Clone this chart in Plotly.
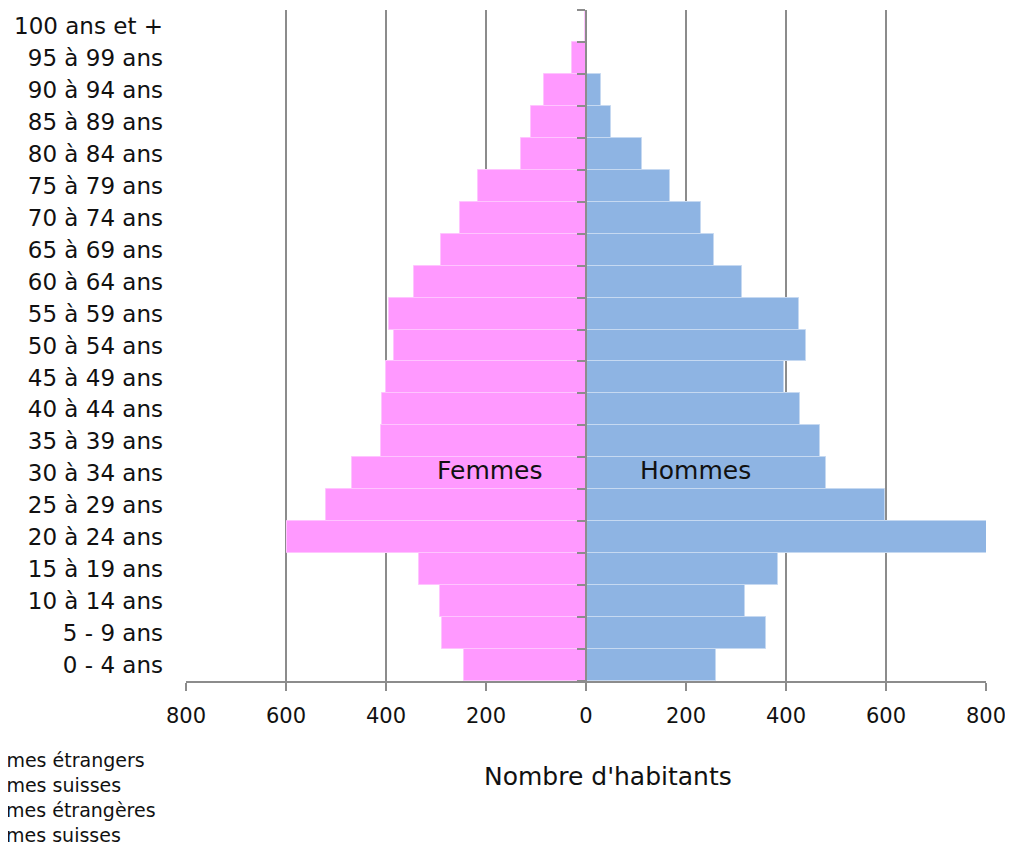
import plotly.graph_objects as go

age_groups = ["0 - 4 ans", "5 - 9 ans", "10 à 14 ans", "15 à 19 ans", "20 à 24 ans",
              "25 à 29 ans", "30 à 34 ans", "35 à 39 ans", "40 à 44 ans", "45 à 49 ans",
              "50 à 54 ans", "55 à 59 ans", "60 à 64 ans", "65 à 69 ans", "70 à 74 ans",
              "75 à 79 ans", "80 à 84 ans", "85 à 89 ans", "90 à 94 ans", "95 à 99 ans",
              "100 ans et +"]
femmes = [245, 289, 293, 334, 598, 521, 469, 411, 408, 401, 384, 394, 344, 290, 253,
          217, 131, 110, 85, 28, 3]
hommes = [260, 360, 318, 383, 803, 597, 479, 467, 428, 395, 440, 425, 311, 255, 229,
          167, 112, 50, 29, 0, 0]
legend_names = ["Hommes étrangers", "Hommes suisses", "Femmes étrangères", "Femmes suisses"]
x_ticks = [-800, -600, -400, -200, 0, 200, 400, 600, 800]

FONT = "DejaVu Sans"
OFF = 8  # page body margin
W, H = 1013 - OFF, 853 - OFF
ML, MR, MT, MB = 186 - OFF, 27, 10 - OFF, 172
pw = W - ML - MR
ph = H - MT - MB


def px_x(px):
    return (px - OFF - ML) / pw


def px_y(py):
    return (H - MB - (py - OFF)) / ph


fig = go.Figure()
fig.add_trace(go.Bar(
    y=age_groups, x=[-v for v in femmes], orientation="h", name="Femmes",
    marker=dict(color="#FF99FF", line=dict(color="#FFC4FF", width=1)),
    yaxis="y", showlegend=False))
fig.add_trace(go.Bar(
    y=age_groups, x=hommes, orientation="h", name="Hommes",
    marker=dict(color="#8EB4E3", line=dict(color="#C6D9F1", width=1)),
    yaxis="y2", showlegend=False))

fig.update_layout(
    width=W, height=H,
    margin=dict(l=ML, r=MR, t=MT, b=MB, autoexpand=False),
    paper_bgcolor="white", plot_bgcolor="white",
    bargap=0, barmode="overlay",
    font=dict(family=FONT, size=20, color="#111111"),
    xaxis=dict(range=[-800, 800], tickvals=x_ticks,
               ticktext=[str(abs(v)) for v in x_ticks],
               showgrid=True, gridcolor="#8c8c8c", gridwidth=2,
               zeroline=False, showline=True, linecolor="#8c8c8c", linewidth=2,
               ticks="outside", ticklen=8, tickcolor="#8c8c8c", tickwidth=2,
               tickfont=dict(size=21), ticklabelstandoff=7),
    yaxis=dict(type="category", categoryarray=age_groups, range=[-0.5, 20.5],
               showgrid=False, zeroline=False, showline=False, ticks="",
               tickfont=dict(size=23), ticklabelstandoff=22),
    yaxis2=dict(type="category", categoryarray=age_groups, range=[-0.5, 20.5],
                overlaying="y", anchor="free", position=0.5, side="left",
                showgrid=False, zeroline=False, showline=True,
                linecolor="#8c8c8c", linewidth=2, showticklabels=False,
                ticks="outside", ticklen=8, tickcolor="#8c8c8c", tickwidth=2,
                tickson="boundaries"),
)

fig.add_annotation(x=-192, y="30 à 34 ans", xref="x", yref="y", text="Femmes",
                   showarrow=False, yshift=3, font=dict(size=25, color="#111111"))
fig.add_annotation(x=218, y="30 à 34 ans", xref="x", yref="y", text="Hommes",
                   showarrow=False, yshift=3, font=dict(size=25, color="#111111"))
fig.add_annotation(x=px_x(608), y=px_y(776), xref="paper", yref="paper",
                   xanchor="center", yanchor="middle",
                   text="Nombre d'habitants", showarrow=False,
                   font=dict(size=25, color="#111111"))

for i, name in enumerate(legend_names):
    yc = 760 + 25 * i
    start = -40 if name.startswith("Hommes") else -36
    fig.add_annotation(x=px_x(start), y=px_y(yc), xref="paper", yref="paper",
                       xanchor="left", yanchor="middle", text=name, showarrow=False,
                       font=dict(size=19, color="#111111"))

fig.write_html("out.html")
